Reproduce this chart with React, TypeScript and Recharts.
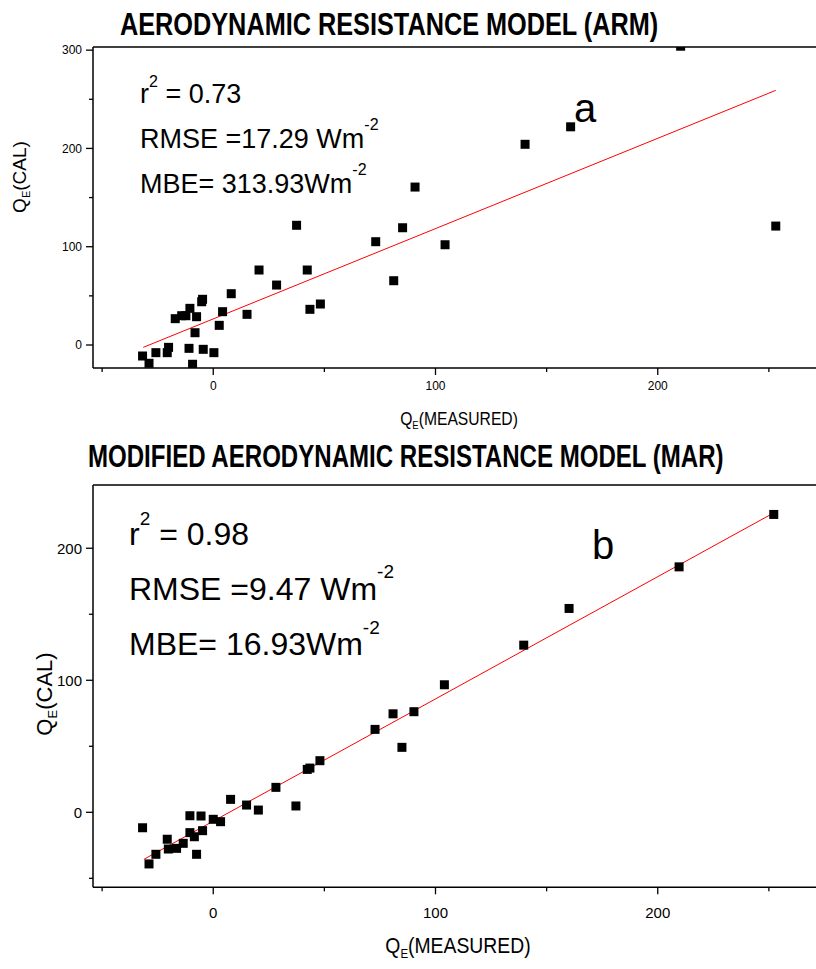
import { ScatterChart, Scatter, XAxis, YAxis } from "recharts";

const FONT = "'Liberation Sans', Arial, sans-serif";

// measured vs calculated latent heat flux
const measuredA = [-31.8, -28.9, -25.8, -20.7, -20.1, -17.1, -14.2, -12.3, -10.5, -7.5, -8.2, -10.9, -9.3, -5.2, -4.8, -4.5, 0.3, 2.7, 4.2, 8.1, 15.2, 20.6, 28.5, 37.5, 42.3, 43.5, 48.2, 73.1, 81.2, 85.2, 90.8, 104.3, 140.3, 160.8, 210.3, 253.1];
const calA = [-11.2, -18.6, -7.8, -7.8, -2.4, 26.8, 29.8, 29.8, 37.3, 28.8, 12.5, -3.4, -19.6, 44, 46.5, -4.4, -7.8, 20, 33.9, 52.2, 31.2, 76.3, 61, 121.8, 76.3, 36.3, 41.7, 105.1, 65.4, 119.3, 160.7, 102, 204.2, 222, 304, 121];

const measuredB = [-31.8, -28.9, -25.8, -20.7, -20.2, -16.5, -13.5, -10.5, -10.5, -8.5, -7.5, -5.5, -4.8, 0, 3.3, 7.8, 15, 20.3, 28.2, 37.2, 42.3, 43.5, 48, 72.8, 80.9, 84.9, 90.3, 104, 139.7, 160.1, 209.6, 252.2];
const calB = [-11.7, -39.1, -31.8, -20.4, -27.8, -27.3, -23.5, -2.6, -15.4, -18.5, -31.8, -2.8, -13.9, -5.3, -7.1, 9.8, 5.5, 1.7, 18.9, 4.8, 32.5, 33.5, 39.1, 62.8, 74.6, 49.2, 76.2, 96.6, 126.6, 154.4, 185.9, 225.6];

// fitted line end points
const fitA = [{ x: -31.5, y: -2.4 }, { x: 253.1, y: 259.1 }];
const fitB = [{ x: -31.2, y: -35.6 }, { x: 252.2, y: 226.8 }];

const xTicks = [-50, 0, 50, 100, 150, 200, 250];
const yTicksA = [0, 50, 100, 150, 200, 250, 300];
const yTicksB = [-50, 0, 50, 100, 150, 200];
const topTicks = [1, 2, 3, 4, 5, 6, 7, 8, 9];

const ptsA = measuredA.map((x, i) => ({ x, y: calA[i] }));
const ptsB = measuredB.map((x, i) => ({ x, y: calB[i] }));

const Square = (p: any) => <rect x={p.cx - 4.5} y={p.cy - 4.5} width={9} height={9} fill="#000" />;
const NoDot = () => <g />;

const BottomTick = ({ x, y, payload, fs, dy }: any) => {
  const major = payload.value % 100 === 0;
  return (
    <g>
      <line x1={x} x2={x} y1={y} y2={y + (major ? 7 : 4)} stroke="#000" strokeWidth={1.3} />
      {major && (
        <text x={x} y={y + dy} textAnchor="middle" fontSize={fs} fontFamily={FONT} fill="#000">
          {payload.value}
        </text>
      )}
    </g>
  );
};

const LeftTick = ({ x, y, payload, fs }: any) => {
  const major = payload.value % 100 === 0;
  return (
    <g>
      <line x1={x} x2={x - (major ? 7 : 4)} y1={y} y2={y} stroke="#000" strokeWidth={1.3} />
      {major && (
        <text x={x - 11} y={y + fs * 0.36} textAnchor="end" fontSize={fs} fontFamily={FONT} fill="#000">
          {payload.value}
        </text>
      )}
    </g>
  );
};

const TopTick = ({ x, y, payload }: any) => (
  <line x1={x} x2={x} y1={y} y2={y + (payload.value % 2 === 0 ? 6 : 3)} stroke="#000" strokeWidth={1.3} />
);

const axisLine = { stroke: "#000", strokeWidth: 1.5 };

function Panel({ pts, fit, yDomain, yTicks, height, topH, bottomH, fs, dy }: any) {
  return (
    <ScatterChart width={816} height={height} margin={{ top: 0, right: 0, bottom: 0, left: 0 }}>
      <XAxis
        xAxisId="top"
        orientation="top"
        type="number"
        domain={[0, 9.86]}
        allowDataOverflow
        ticks={topTicks}
        height={topH}
        tickSize={0}
        tickMargin={0}
        tickLine={false}
        axisLine={axisLine}
        tick={<TopTick />}
      />
      <XAxis
        dataKey="x"
        type="number"
        domain={[-54.1, 271.2]}
        allowDataOverflow
        ticks={xTicks}
        height={bottomH}
        tickSize={0}
        tickMargin={0}
        tickLine={false}
        axisLine={axisLine}
        tick={<BottomTick fs={fs} dy={dy} />}
      />
      <YAxis
        dataKey="y"
        type="number"
        domain={yDomain}
        allowDataOverflow
        ticks={yTicks}
        width={93}
        tickSize={0}
        tickMargin={0}
        tickLine={false}
        axisLine={axisLine}
        tick={<LeftTick fs={fs} />}
      />
      <Scatter data={fit} line={{ stroke: "#ff0000", strokeWidth: 1 }} shape={NoDot} isAnimationActive={false} />
      <Scatter data={pts} shape={Square} isAnimationActive={false} />
    </ScatterChart>
  );
}

export default function App() {
  return (
    <div style={{ position: "absolute", left: 0, top: 0, width: 816, height: 969, background: "#fff" }}>
      <div style={{ position: "absolute", left: 0, top: 0 }}>
        <Panel pts={ptsA} fit={fitA} yDomain={[-23.4, 303.2]} yTicks={yTicksA} height={440} topH={47} bottomH={72} fs={12} dy={22} />
      </div>
      <div style={{ position: "absolute", left: 0, top: 440 }}>
        <Panel pts={ptsB} fit={fitB} yDomain={[-56.8, 247.9]} yTicks={yTicksB} height={529} topH={45} bottomH={81.7} fs={15} dy={31} />
      </div>
      <svg width={816} height={969} style={{ position: "absolute", left: 0, top: 0, pointerEvents: "none" }} fontFamily={FONT} fill="#000">
        <g transform="translate(120,35) scale(0.79,1)">
          <text fontSize={32} fontWeight="bold">AERODYNAMIC RESISTANCE MODEL (ARM)</text>
        </g>
        <g transform="translate(88,467) scale(0.752,1)">
          <text fontSize={32} fontWeight="bold">MODIFIED AERODYNAMIC RESISTANCE MODEL (MAR)</text>
        </g>

        <text x={140} y={103} fontSize={27}>
          r<tspan dy={-16} fontSize={16}>2</tspan><tspan dy={16}> = 0.73</tspan>
        </text>
        <text x={140} y={148} fontSize={27}>
          RMSE =17.29 Wm<tspan dy={-18} fontSize={16}>-2</tspan>
        </text>
        <text x={140} y={193} fontSize={27}>
          MBE= 313.93Wm<tspan dy={-18} fontSize={16}>-2</tspan>
        </text>
        <text x={574} y={122} fontSize={40}>a</text>

        <text x={129} y={545} fontSize={32}>
          r<tspan dy={-20} fontSize={19}>2</tspan><tspan dy={20}> = 0.98</tspan>
        </text>
        <text x={129} y={600} fontSize={32}>
          RMSE =9.47 Wm<tspan dy={-22} fontSize={19}>-2</tspan>
        </text>
        <text x={129} y={655} fontSize={32}>
          MBE= 16.93Wm<tspan dy={-21} fontSize={19}>-2</tspan>
        </text>
        <text x={592} y={559} fontSize={40}>b</text>

        <g transform="translate(459,425) scale(0.87,1)">
          <text textAnchor="middle" fontSize={18}>
            Q<tspan dy={4} fontSize={11}>E</tspan><tspan dy={-4}>(MEASURED)</tspan>
          </text>
        </g>
        <g transform="translate(458,953) scale(0.88,1)">
          <text textAnchor="middle" fontSize={22}>
            Q<tspan dy={5} fontSize={13}>E</tspan><tspan dy={-5}>(MEASURED)</tspan>
          </text>
        </g>
        <g transform="translate(26,177) rotate(-90)">
          <text textAnchor="middle" fontSize={19}>
            Q<tspan dy={4} fontSize={11}>E</tspan><tspan dy={-4}>(CAL)</tspan>
          </text>
        </g>
        <g transform="translate(52,694) rotate(-90)">
          <text textAnchor="middle" fontSize={22}>
            Q<tspan dy={5} fontSize={13}>E</tspan><tspan dy={-5}>(CAL)</tspan>
          </text>
        </g>
      </svg>
    </div>
  );
}
